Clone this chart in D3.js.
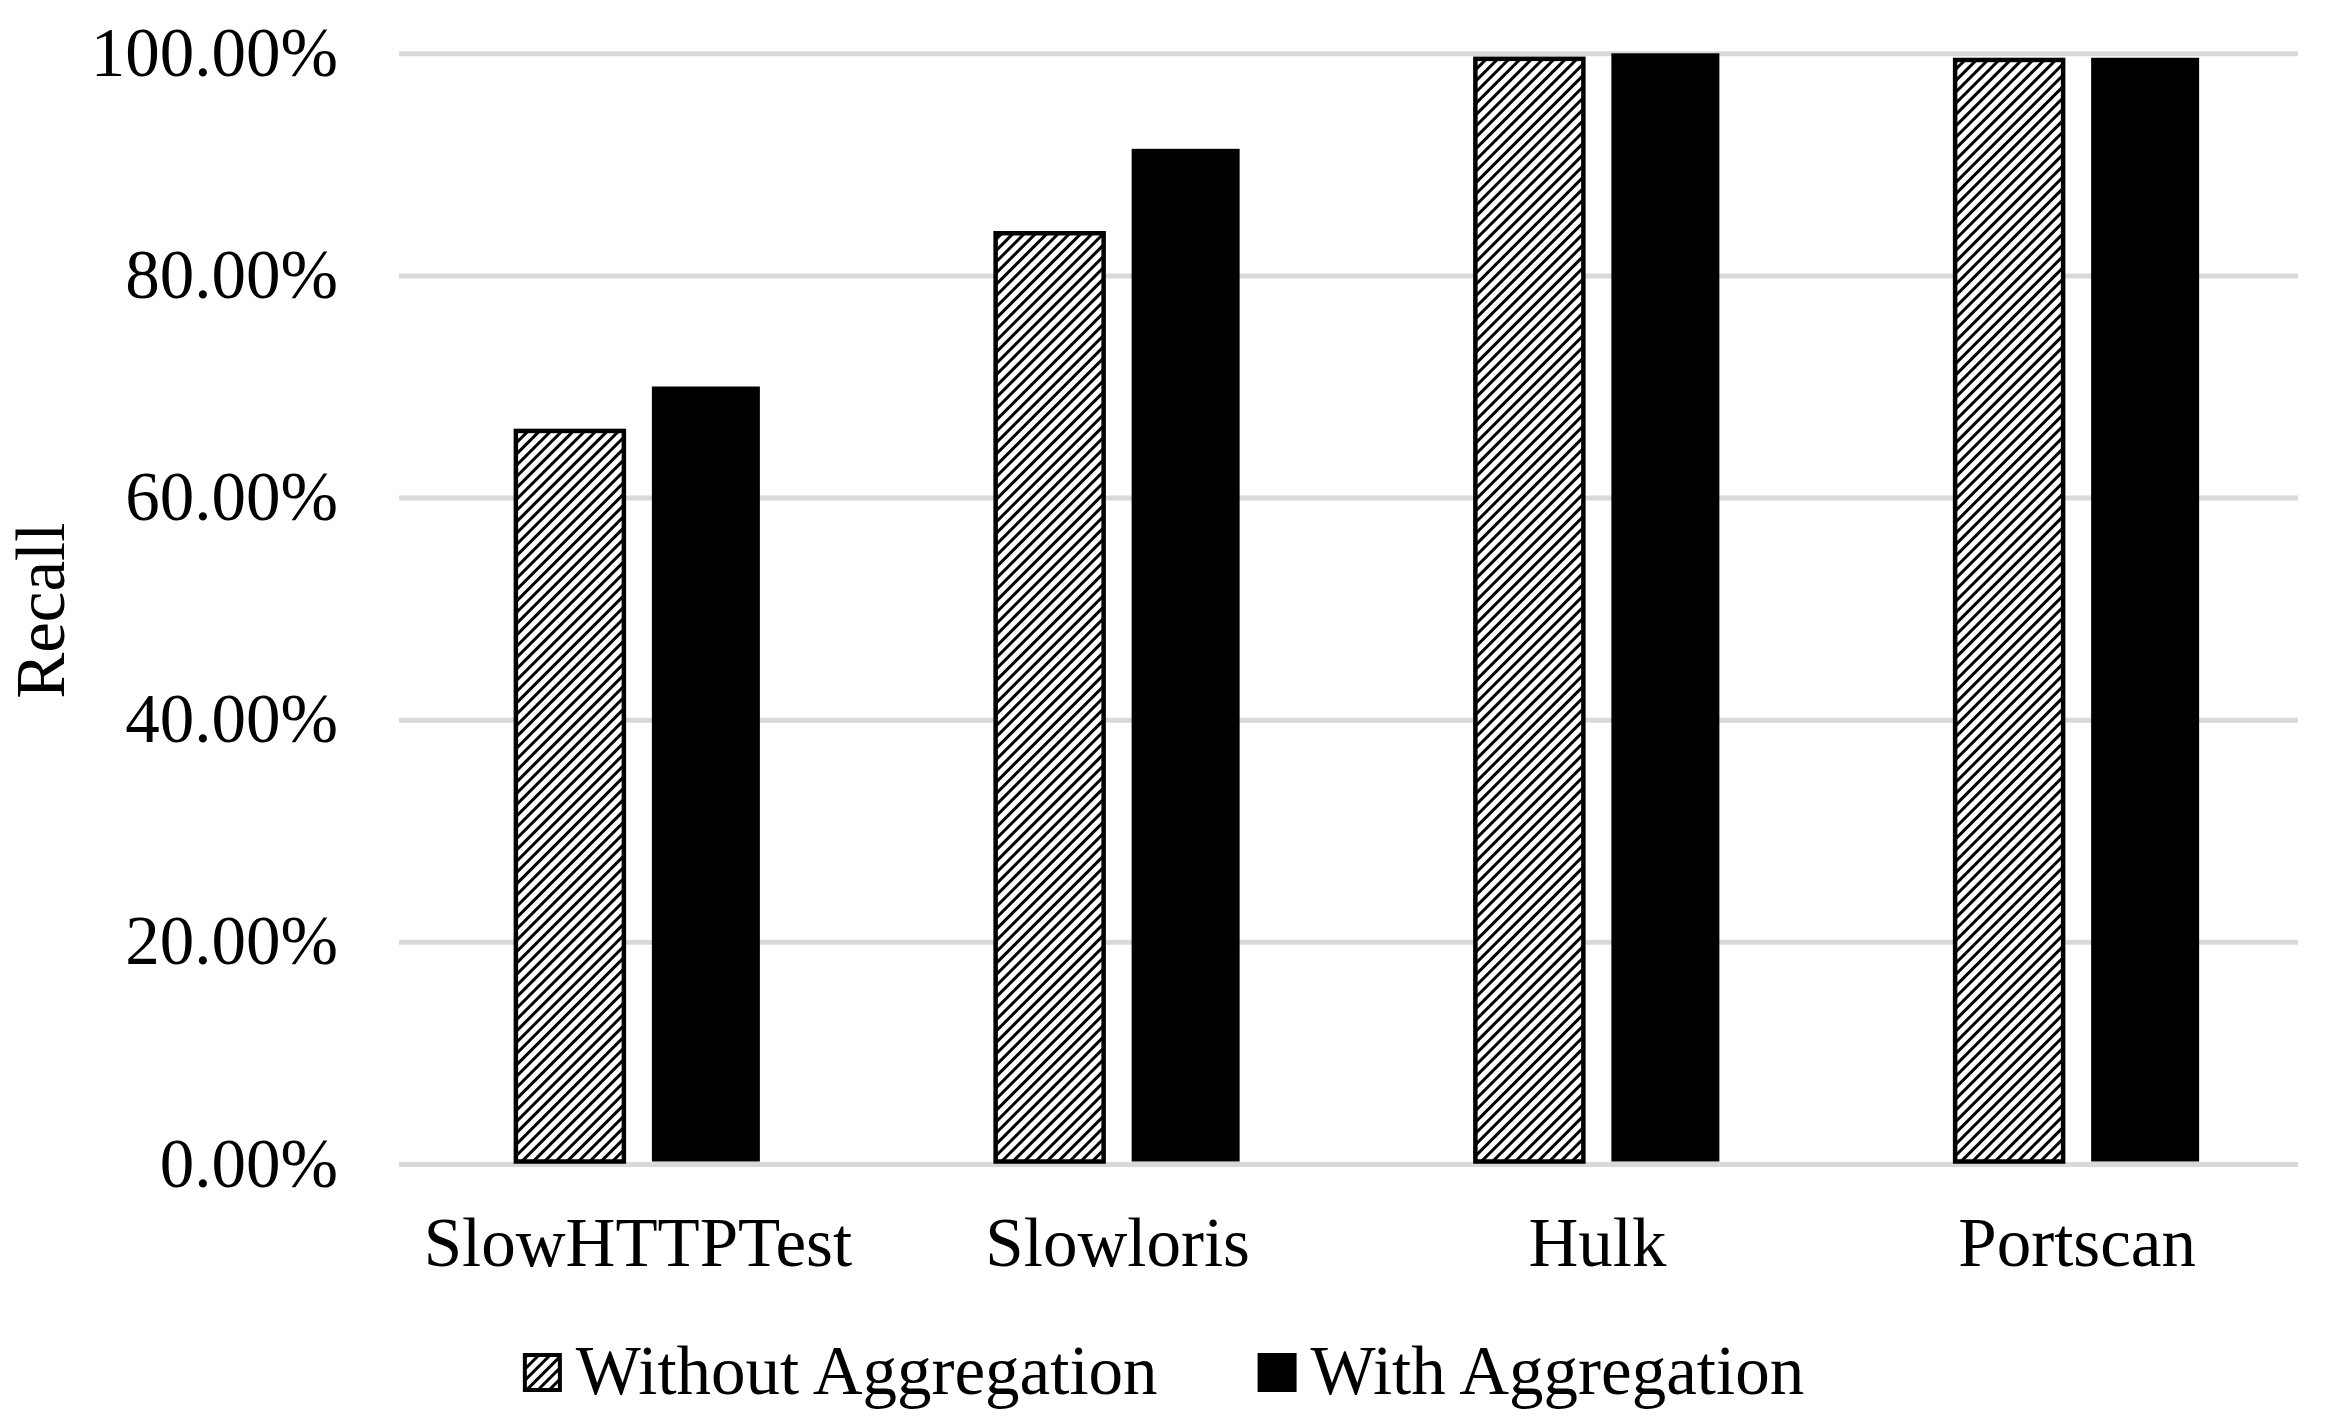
<!DOCTYPE html>
<html>
<head>
<meta charset="utf-8">
<script src="https://cdn.jsdelivr.net/npm/d3@7"></script>
<style>
body { margin: 0; background: #fff; }
svg text { font-family: 'Liberation Serif', 'Times New Roman', serif; fill: #000; }
</style>
</head>
<body>
<svg id="chart" width="2327" height="1427"></svg>
<script>
var categories = ['SlowHTTPTest', 'Slowloris', 'Hulk', 'Portscan'];
var seriesNames = ['Without Aggregation', 'With Aggregation'];
var withoutAgg = [0.660, 0.838, 0.995, 0.994];
var withAgg = [0.700, 0.914, 1.000, 0.996];
var yTicks = [0, 0.2, 0.4, 0.6, 0.8, 1.0];
var yTitle = 'Recall';

var fontSize = 69;
var plotLeft = 399, plotRight = 2298, plotTop = 53.3, plotBottom = 1164;

var svg = d3.select('#chart');

// hatch pattern like Excel's wide upward diagonal
var defs = svg.append('defs');
var hatch = defs.append('pattern')
	.attr('id', 'hatch')
	.attr('patternUnits', 'userSpaceOnUse')
	.attr('width', 8)
	.attr('height', 8)
	.attr('patternTransform', 'rotate(45)');
hatch.append('rect').attr('width', 8).attr('height', 8).attr('fill', '#fff');
hatch.append('rect').attr('width', 3).attr('height', 8).attr('fill', '#000');

var y = d3.scaleLinear().domain([0, 1]).range([plotBottom, plotTop]);
var x = d3.scaleBand().domain(categories).range([398, 2317]);
var x1 = d3.scaleBand().domain(seriesNames).range([0, 244]).paddingInner(0.206);

// gridlines + tick labels
var yAxis = svg.append('g')
	.attr('transform', 'translate(' + plotLeft + ',0)')
	.call(d3.axisLeft(y).tickValues(yTicks).tickFormat(d3.format('.2%'))
		.tickSize(-(plotRight - plotLeft)).tickPadding(61));
yAxis.select('.domain').remove();
yAxis.selectAll('.tick line').attr('stroke', '#d9d9d9').attr('stroke-width', 5);
yAxis.selectAll('.tick text').attr('font-size', fontSize).attr('font-family', "'Liberation Serif', serif");

// bars
var rows = categories.map(function(c, i){
	return { cat: c, values: [withoutAgg[i], withAgg[i]] };
});
var groups = svg.append('g').selectAll('g')
	.data(rows)
	.enter().append('g')
	.attr('transform', function(d){ return 'translate(' + (x(d.cat) + x.bandwidth() / 2 - 122) + ',0)'; });

groups.selectAll('rect')
	.data(function(d){ return d.values.map(function(v, j){ return { s: seriesNames[j], v: v }; }); })
	.enter().append('rect')
	.attr('x', function(d){ return x1(d.s); })
	.attr('y', function(d){ return y(d.v); })
	.attr('width', x1.bandwidth())
	.attr('height', function(d){ return y(0) - 2.5 - y(d.v); })
	.attr('fill', function(d){ return d.s == seriesNames[0] ? 'url(#hatch)' : '#000'; })
	.attr('stroke', function(d){ return d.s == seriesNames[0] ? '#000' : 'none'; })
	.attr('stroke-width', 4.5);

// category labels
var xAxis = svg.append('g')
	.attr('transform', 'translate(0,' + plotBottom + ')')
	.call(d3.axisBottom(x).tickSize(0).tickPadding(53));
xAxis.select('.domain').remove();
xAxis.selectAll('.tick text').attr('font-size', fontSize).attr('font-family', "'Liberation Serif', serif");

// y title
svg.append('text')
	.attr('transform', 'translate(64,' + ((plotTop + plotBottom) / 2 + 2) + ') rotate(-90)')
	.attr('text-anchor', 'middle')
	.attr('font-size', fontSize)
	.text(yTitle);

// legend
var legend = svg.append('g');
var items = legend.selectAll('g')
	.data(seriesNames)
	.enter().append('g');
items.append('rect')
	.attr('x', 2)
	.attr('y', 1355)
	.attr('width', 35)
	.attr('height', 35)
	.attr('fill', function(d, i){ return i == 0 ? 'url(#hatch)' : '#000'; })
	.attr('stroke', '#000')
	.attr('stroke-width', 4);
items.append('text')
	.attr('x', 53)
	.attr('y', 1394)
	.attr('font-size', fontSize)
	.text(function(d){ return d; });

var offsets = [], pos = 0;
items.each(function(d, i){
	offsets.push(pos);
	pos += 53 + d3.select(this).select('text').node().getComputedTextLength();
	if (i < seriesNames.length - 1) pos += 100;
});
var start = 1163.5 - pos / 2;
items.attr('transform', function(d, i){ return 'translate(' + (start + offsets[i]) + ',0)'; });
</script>
</body>
</html>
